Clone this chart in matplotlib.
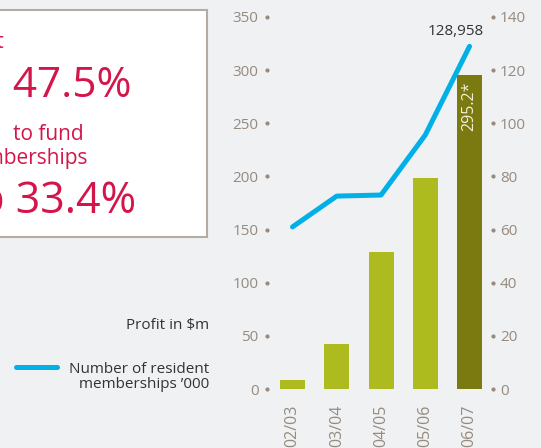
import matplotlib
matplotlib.use("Agg")
import matplotlib.pyplot as plt
import matplotlib.patches as patches
import matplotlib.transforms as mtransforms
from matplotlib.lines import Line2D

plt.rcParams['font.family'] = ['Open Sans', 'DejaVu Sans']

# data
years = ['02/03', '03/04', '04/05', '05/06', '06/07']
profit = [8.5, 42.3, 129.0, 198.5, 295.2]          # $m, left axis
members = [61.0, 72.6, 73.0, 95.6, 128.958]        # '000, right axis
members_label = '128,958'
left_ticks = [0, 50, 100, 150, 200, 250, 300, 350]
right_ticks = [0, 20, 40, 60, 80, 100, 120, 140]

W, H = 541, 448
BG = '#eff1f3'
GREY = '#978a7e'
RED = '#d3154a'
CYAN = '#00b0e6'
LIME = '#aebb1f'
OLIVE = '#7a7a10'
DARK = '#333333'


def px(x, y):
    # figure pixel (from top left) to figure fraction
    return x / W, 1 - y / H


fig = plt.figure(figsize=(W / 100, H / 100), dpi=100, facecolor=BG)

# the highlight box on the left, cut off by the crop
box = patches.Rectangle(px(-10, 237), 217 / W, 227 / H, transform=fig.transFigure,
                        facecolor='white', edgecolor='#b5aba1', linewidth=1.5)
fig.add_artist(box)
fig.text(*px(4, 48), 'Net profit', color=RED, fontsize=15, ha='right', va='baseline')
fig.text(*px(131, 97), 'up 47.5%', color=RED, fontsize=30.5, ha='right', va='baseline')
fig.text(*px(13, 140), 'to fund', color=RED, fontsize=15, ha='left', va='baseline')
fig.text(*px(88, 164), 'new memberships', color=RED, fontsize=15, ha='right', va='baseline')
fig.text(*px(136, 213), 'up 33.4%', color=RED, fontsize=31, ha='right', va='baseline')

# legend on the left
fig.text(*px(209, 325), 'Profit in $m', color=DARK, fontsize=11, ha='right', va='center')
fig.text(*px(209, 377), 'Number of resident\nmemberships \u2019000', color=DARK,
         fontsize=11, ha='right', va='center', multialignment='right', linespacing=1.0)
fig.add_artist(Line2D([16 / W, 57 / W], [1 - 367 / H] * 2, transform=fig.transFigure,
                      color=CYAN, linewidth=3.6, solid_capstyle='round'))

# chart
x0, y0 = px(267, 389)
x1, y1 = px(493, 17)
ax = fig.add_axes([x0, y0, x1 - x0, y1 - y0])
ax.patch.set_visible(False)
ax2 = ax.twinx()

idx = list(range(len(years)))
colors = [LIME] * (len(years) - 1) + [OLIVE]
ax.bar(idx, profit, width=0.565, color=colors, zorder=2)
ax.annotate(f'{profit[-1]}*', (idx[-1], profit[-1]), xytext=(0, -4.5), textcoords='offset points',
            rotation=90, ha='center', va='top', color='#f3f0d8', fontsize=11.5)

ax2.plot(idx, members, color=CYAN, linewidth=3.6, solid_capstyle='round', solid_joinstyle='round')
ax2.annotate(members_label, (idx[-1], members[-1]), xytext=(-10, 5), textcoords='offset points',
             ha='center', va='bottom', color=DARK, fontsize=11)

ax.set_xlim(-0.576, 4.53)
ax.set_ylim(0, 350)
ax2.set_ylim(0, 140)

for a in (ax, ax2):
    for s in a.spines.values():
        s.set_visible(False)

ax.set_xticks(idx)
ax.set_xticklabels(years, rotation=90, color=GREY, fontsize=11.5)
ax.tick_params(axis='x', length=0, pad=11.5)
ax.set_yticks(left_ticks)
ax.tick_params(axis='y', length=0, pad=6, labelcolor=GREY, labelsize=11)
ax2.set_yticks(right_ticks)
ax2.tick_params(axis='y', length=0, pad=5, labelcolor=GREY, labelsize=11)

# small dots beside the tick labels
tl = mtransforms.blended_transform_factory(ax.transAxes, ax.transData)
ax.scatter([0] * len(left_ticks), left_ticks, s=4, color=GREY, transform=tl, clip_on=False)
tr = mtransforms.blended_transform_factory(ax2.transAxes, ax2.transData)
ax2.scatter([1] * len(right_ticks), right_ticks, s=4, color=GREY, transform=tr, clip_on=False)

fig.savefig('out.png', dpi=100, facecolor=BG)
